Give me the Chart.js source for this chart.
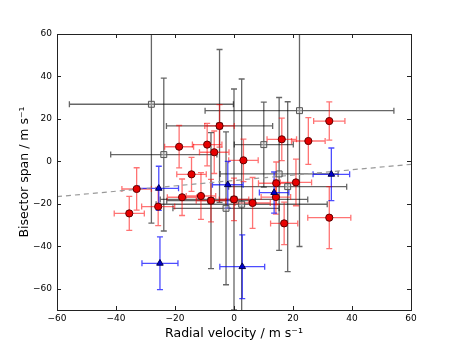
<!DOCTYPE html>
<html>
<head>
<meta charset="utf-8">
<script src="https://cdn.jsdelivr.net/npm/chart.js@4.4.0/dist/chart.umd.min.js"></script>
<style>
  body { margin: 0; background: #fff; }
  canvas { display: block; }
</style>
</head>
<body>
<canvas id="bisector" width="457" height="345"></canvas>
<script>
// red circles
const redX = [32.3, 16.2, 25.2, 3.2, 14.3, 21.0, 14.2, 6.3, 17.0, 32.3, 0.0, -9.1, -6.7, -14.4, -17.6, -11.2, -7.8, -18.6, -33.0, -25.7, -35.5, -4.9];
const redY = [19.0, 10.4, 9.6, 0.5, -10.3, -9.9, -16.8, -19.6, -29.2, -26.5, -17.9, 7.9, 4.3, -6.1, -16.9, -16.3, -18.5, 6.9, -13.0, -21.3, -24.5, 16.7];
const redXErr = [5.3, 5.0, 5.7, 5.0, 6.0, 5.3, 5.0, 6.0, 4.6, 7.3, 5.0, 5.0, 5.0, 5.0, 5.0, 5.0, 5.0, 4.9, 5.0, 5.6, 5.1, 5.0];
const redYErr = [9.0, 10.0, 11.0, 10.0, 10.0, 11.0, 8.0, 12.0, 10.0, 14.6, 10.0, 10.0, 10.0, 8.0, 8.6, 11.0, 10.0, 10.0, 10.0, 9.0, 8.0, 10.0];

// blue triangles
const blueX = [-25.5, -25.1, 2.8, -2.1, 13.6, 33.0];
const blueY = [-12.7, -48.0, -49.6, -11.0, -14.7, -6.1];
const blueXErr = [6.7, 6.1, 7.6, 5.2, 5.0, 6.2];
const blueYErr = [10.4, 12.4, 15.0, 11.0, 9.7, 12.4];

// grey squares (some sit under red points)
const grayX = [-28.0, -23.8, -4.9, 22.2, 10.1, 15.3, 18.2, -2.7, 2.6, 0.0, -7.8];
const grayY = [26.9, 3.2, 16.7, 23.9, 7.9, -5.9, -11.9, -22.1, -20.2, -17.9, -18.5];
const grayXErr = [27.8, 18.0, 18.0, 32.0, 10.0, 20.0, 20.0, 18.0, 29.0, 25.0, 15.0];
const grayYErr = [56.0, 36.0, 36.0, 64.0, 20.0, 36.0, 40.0, 36.0, 59.0, 52.0, 32.0];

// dashed fit
const fitX = [-60, 60];
const fitY = [-16.6, -1.4];

const xTicks = [-60, -40, -20, 0, 20, 40, 60];
const yTicks = [-60, -40, -20, 0, 20, 40, 60];

function pts(xs, ys) {
    return xs.map((v, i) => ({x: v, y: ys[i]}));
}

const minus = v => String(v).replace('-', '\u2212');

//error bars, drawn under the markers
const errorBars = {
    id: 'errorBars',
    beforeDatasetsDraw(chart) {
        const {ctx, chartArea: a, scales: {x, y}} = chart;
        ctx.save();
        ctx.beginPath();
        ctx.rect(a.left, a.top, a.right - a.left, a.bottom - a.top);
        ctx.clip();
        chart.data.datasets.slice().reverse().forEach(ds => {
            if (!ds.xErr) return;
            ctx.strokeStyle = ds.errColor;
            ctx.lineWidth = 1.3;
            ds.data.forEach((p, i) => {
                const px = x.getPixelForValue(p.x);
                const py = y.getPixelForValue(p.y);
                const x0 = x.getPixelForValue(p.x - ds.xErr[i]);
                const x1 = x.getPixelForValue(p.x + ds.xErr[i]);
                const y0 = y.getPixelForValue(p.y - ds.yErr[i]);
                const y1 = y.getPixelForValue(p.y + ds.yErr[i]);
                const c = 3;
                ctx.beginPath();
                ctx.moveTo(x0, py); ctx.lineTo(x1, py);
                ctx.moveTo(x0, py - c); ctx.lineTo(x0, py + c);
                ctx.moveTo(x1, py - c); ctx.lineTo(x1, py + c);
                ctx.moveTo(px, y0); ctx.lineTo(px, y1);
                ctx.moveTo(px - c, y0); ctx.lineTo(px + c, y0);
                ctx.moveTo(px - c, y1); ctx.lineTo(px + c, y1);
                ctx.stroke();
            });
        });
        ctx.restore();
    }
};

//frame and inward ticks on all four sides
const frame = {
    id: 'frame',
    afterDraw(chart) {
        const {ctx, chartArea: a, scales: {x, y}} = chart;
        ctx.save();
        ctx.strokeStyle = '#222';
        ctx.lineWidth = 1;
        ctx.strokeRect(a.left + 0.5, a.top + 0.5, a.right - a.left, a.bottom - a.top);
        ctx.beginPath();
        xTicks.forEach(v => {
            const px = Math.round(x.getPixelForValue(v)) + 0.5;
            ctx.moveTo(px, a.bottom); ctx.lineTo(px, a.bottom - 4);
            ctx.moveTo(px, a.top); ctx.lineTo(px, a.top + 4);
        });
        yTicks.forEach(v => {
            const py = Math.round(y.getPixelForValue(v)) + 0.5;
            ctx.moveTo(a.left, py); ctx.lineTo(a.left + 4, py);
            ctx.moveTo(a.right, py); ctx.lineTo(a.right - 4, py);
        });
        ctx.stroke();
        ctx.restore();
    }
};

const data = {
    datasets: [{
        data: pts(blueX, blueY),
        xErr: blueXErr, yErr: blueYErr,
        errColor: 'rgba(0, 0, 255, 0.7)',
        pointStyle: 'triangle',
        pointRadius: 3.8,
        backgroundColor: '#0000d0',
        borderColor: '#000050',
        borderWidth: 1
    }, {
        data: pts(redX, redY),
        xErr: redXErr, yErr: redYErr,
        errColor: 'rgba(255, 0, 0, 0.55)',
        pointStyle: 'circle',
        pointRadius: 3.6,
        backgroundColor: '#e80000',
        borderColor: '#600000',
        borderWidth: 1
    }, {
        data: pts(grayX, grayY),
        xErr: grayXErr, yErr: grayYErr,
        errColor: 'rgba(0, 0, 0, 0.6)',
        pointStyle: 'rect',
        pointRadius: 4.2,
        backgroundColor: 'rgba(200, 200, 200, 0.4)',
        borderColor: '#555',
        borderWidth: 1
    }, {
        data: pts(fitX, fitY),
        showLine: true,
        pointRadius: 0,
        borderColor: '#999',
        borderWidth: 1.2,
        borderDash: [5, 4]
    }]
};

const config = {
    type: 'scatter',
    data: data,
    options: {
        responsive: false,
        animation: false,
        devicePixelRatio: 1,
        layout: {padding: {top: 34, right: 46, left: 0, bottom: 0}},
        plugins: {legend: {display: false}, tooltip: {enabled: false}},
        scales: {
            x: {
                min: -60, max: 60,
                grid: {display: false, drawTicks: false},
                border: {display: false},
                afterBuildTicks: s => { s.ticks = xTicks.map(v => ({value: v})); },
                afterFit: s => { s.height = 35; },
                ticks: {
                    padding: 3, color: '#000',
                    font: {family: 'DejaVu Sans', size: 9},
                    callback: minus
                },
                title: {
                    display: true, text: 'Radial velocity / m s\u207B\u00B9',
                    color: '#000', font: {family: 'DejaVu Sans', size: 12.5},
                    padding: {top: 0, bottom: 4}
                }
            },
            y: {
                min: -70, max: 60,
                grid: {display: false, drawTicks: false},
                border: {display: false},
                afterBuildTicks: s => { s.ticks = yTicks.map(v => ({value: v})); },
                afterFit: s => { s.width = 57; },
                ticks: {
                    padding: 5, color: '#000',
                    font: {family: 'DejaVu Sans', size: 9},
                    callback: minus
                },
                title: {
                    display: true, text: 'Bisector span / m s\u207B\u00B9',
                    color: '#000', font: {family: 'DejaVu Sans', size: 12.5},
                    padding: {top: 17, bottom: 0}
                }
            }
        }
    },
    plugins: [errorBars, frame]
};

const myChart = new Chart(document.getElementById('bisector'), config);
</script>
</body>
</html>
